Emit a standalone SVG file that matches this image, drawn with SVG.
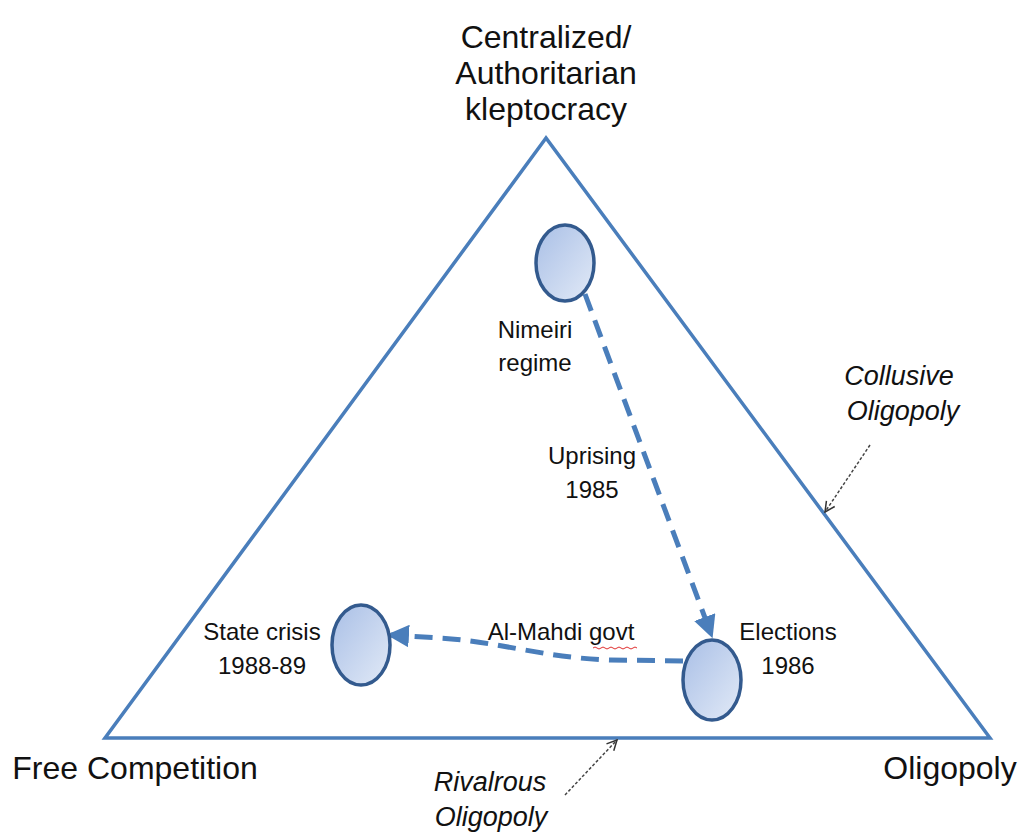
<svg xmlns="http://www.w3.org/2000/svg" width="1019" height="835" viewBox="0 0 1019 835">
<defs>
<linearGradient id="g" x1="0" y1="0" x2="1" y2="1">
<stop offset="0" stop-color="#a9bfe6"/>
<stop offset="1" stop-color="#e2eaf7"/>
</linearGradient>
<marker id="ah" viewBox="0 0 10 10" refX="8" refY="5" markerWidth="4.5" markerHeight="4.5" orient="auto" markerUnits="strokeWidth">
<path d="M0,0 L10,5 L0,10 z" fill="#4a7ebb"/>
</marker>
<marker id="oa" viewBox="0 0 12 12" refX="11" refY="6" markerWidth="12" markerHeight="12" orient="auto" markerUnits="userSpaceOnUse">
<path d="M1,1 L11,6 L1,11" fill="none" stroke="#333" stroke-width="1.5"/>
</marker>
</defs>
<style>
text{font-family:"Liberation Sans",Arial,sans-serif;fill:#111;text-anchor:middle}
.big{font-size:32px}
.lab{font-size:24px}
.it{font-size:27px;font-style:italic}
.node{fill:url(#g);stroke:#335a8e;stroke-width:3.5}
.flow{fill:none;stroke:#4a7ebb;stroke-width:5;stroke-dasharray:18,10}
.note{fill:none;stroke:#444;stroke-width:1.5;stroke-dasharray:3,2}
</style>
<rect width="1019" height="835" fill="#fff"/>
<g id="triangle">
<polygon points="546,138 105,738 990,738" fill="none" stroke="#4a7ebb" stroke-width="3.5" stroke-linejoin="miter"/>
</g>
<g id="axis-labels">
<text class="big" x="546" y="48">Centralized/</text>
<text class="big" x="546" y="84">Authoritarian</text>
<text class="big" x="546" y="120">kleptocracy</text>
<text class="big" x="135" y="779">Free Competition</text>
<text class="big" x="950" y="779">Oligopoly</text>
<text class="it" x="899" y="385">Collusive</text>
<text class="it" x="903" y="420">Oligopoly</text>
<text class="it" x="490" y="791">Rivalrous</text>
<text class="it" x="491" y="826">Oligopoly</text>
</g>
<g id="connectors">
<path class="flow" d="M585,294 L711,634" marker-end="url(#ah)"/>
<path class="flow" d="M683,661 L610,660 C545,658 495,641 440,638 L391,635" marker-end="url(#ah)"/>
<path class="note" d="M870,445 L825,512" marker-end="url(#oa)"/>
<path class="note" d="M565,795 L617,740" marker-end="url(#oa)"/>
</g>
<g id="nimeiri">
<ellipse class="node" cx="565" cy="263" rx="29" ry="38"/>
<text class="lab" x="535" y="338">Nimeiri</text>
<text class="lab" x="535" y="371">regime</text>
</g>
<g id="uprising">
<text class="lab" x="592" y="464">Uprising</text>
<text class="lab" x="592" y="498">1985</text>
</g>
<g id="state-crisis">
<ellipse class="node" cx="361" cy="645" rx="29" ry="40"/>
<text class="lab" x="262" y="640">State crisis</text>
<text class="lab" x="262" y="674">1988-89</text>
</g>
<g id="elections">
<ellipse class="node" cx="712" cy="680" rx="29" ry="40"/>
<text class="lab" x="788" y="640">Elections</text>
<text class="lab" x="788" y="674">1986</text>
</g>
<g id="al-mahdi">
<text class="lab" x="561" y="640">Al-Mahdi govt</text>
<path d="M593,648 q2,-2 4,0 t4,0 t4,0 t4,0 t4,0 t4,0 t4,0 t4,0 t4,0 t4,0 t4,0" fill="none" stroke="#e03030" stroke-width="1"/>
</g>
</svg>
